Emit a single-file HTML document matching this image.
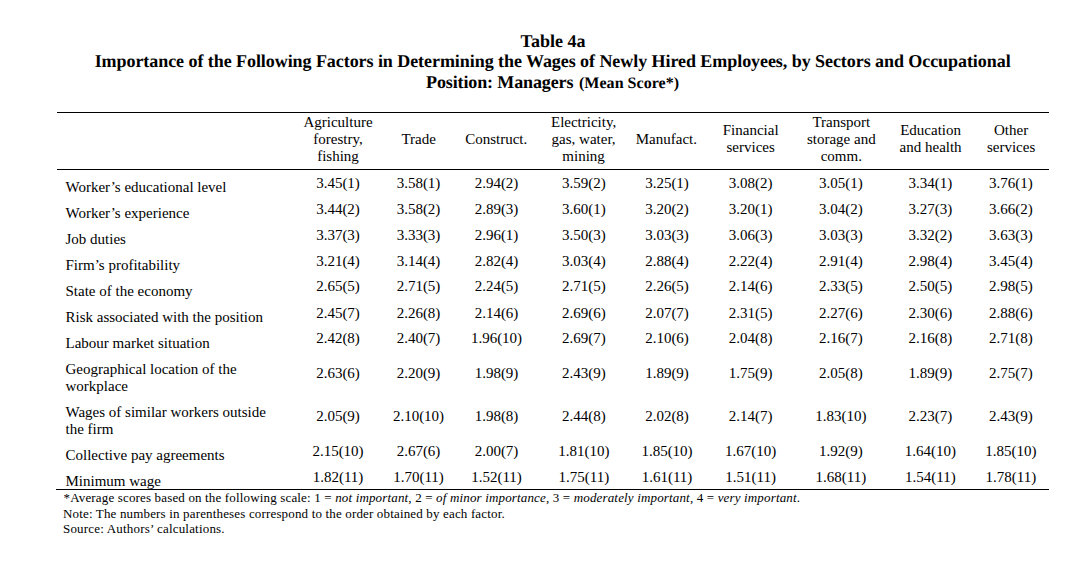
<!DOCTYPE html>
<html><head><meta charset="utf-8"><title>Table 4a</title>
<style>
html,body{margin:0;padding:0;background:#fff;}
body{width:1089px;height:565px;overflow:hidden;}
svg{display:block;}
text{font-family:"Liberation Serif","Times New Roman",serif;font-size:15px;fill:#000;}
.g{text-rendering:geometricPrecision;}
</style></head><body>
<svg width="1089" height="565" viewBox="0 0 1089 565">
<rect x="0" y="0" width="1089" height="565" fill="#fff"/>
<rect x="57" y="112" width="992" height="1" fill="#000"/>
<rect x="57" y="169" width="992" height="1" fill="#000"/>
<rect x="56" y="489" width="993" height="1" fill="#000"/>
<text class="g" x="426" y="88" style="font-size:18px;font-weight:bold" textLength="147.5" lengthAdjust="spacing">Position: Managers</text>
<text class="g" x="579" y="88" style="font-size:16px;font-weight:bold" textLength="100" lengthAdjust="spacing">(Mean Score*)</text>
<text x="553" y="47" text-anchor="middle" style="font-size:18px;font-weight:bold;" class="g">Table 4a</text>
<text x="552.65" y="67" text-anchor="middle" style="font-size:18px;font-weight:bold;" class="g" textLength="916" lengthAdjust="spacing">Importance of the Following Factors in Determining the Wages of Newly Hired Employees, by Sectors and Occupational</text>
<text x="338" y="127" text-anchor="middle">Agriculture</text>
<text x="338" y="144" text-anchor="middle">forestry,</text>
<text x="338" y="161" text-anchor="middle">fishing</text>
<text x="418.7" y="144" text-anchor="middle">Trade</text>
<text x="496.2" y="144" text-anchor="middle">Construct.</text>
<text x="583.6" y="127" text-anchor="middle">Electricity,</text>
<text x="583.6" y="144" text-anchor="middle">gas, water,</text>
<text x="583.6" y="161" text-anchor="middle">mining</text>
<text x="666.4" y="144" text-anchor="middle">Manufact.</text>
<text x="750.7" y="135" text-anchor="middle">Financial</text>
<text x="750.7" y="152" text-anchor="middle">services</text>
<text x="841.3" y="127" text-anchor="middle">Transport</text>
<text x="841.3" y="144" text-anchor="middle">storage and</text>
<text x="841.3" y="161" text-anchor="middle">comm.</text>
<text x="930.6" y="135" text-anchor="middle">Education</text>
<text x="930.6" y="152" text-anchor="middle">and health</text>
<text x="1011.1" y="135" text-anchor="middle">Other</text>
<text x="1011.1" y="152" text-anchor="middle">services</text>
<text x="65.5" y="192">Worker’s educational level</text>
<text x="338" y="188" text-anchor="middle">3.45(1)</text>
<text x="418.5" y="188" text-anchor="middle">3.58(1)</text>
<text x="496.5" y="188" text-anchor="middle">2.94(2)</text>
<text x="583.8" y="188" text-anchor="middle">3.59(2)</text>
<text x="667" y="188" text-anchor="middle">3.25(1)</text>
<text x="750.6" y="188" text-anchor="middle">3.08(2)</text>
<text x="840.8" y="188" text-anchor="middle">3.05(1)</text>
<text x="930.4" y="188" text-anchor="middle">3.34(1)</text>
<text x="1010.9" y="188" text-anchor="middle">3.76(1)</text>
<text x="65.5" y="218">Worker’s experience</text>
<text x="338" y="214" text-anchor="middle">3.44(2)</text>
<text x="418.5" y="214" text-anchor="middle">3.58(2)</text>
<text x="496.5" y="214" text-anchor="middle">2.89(3)</text>
<text x="583.8" y="214" text-anchor="middle">3.60(1)</text>
<text x="667" y="214" text-anchor="middle">3.20(2)</text>
<text x="750.6" y="214" text-anchor="middle">3.20(1)</text>
<text x="840.8" y="214" text-anchor="middle">3.04(2)</text>
<text x="930.4" y="214" text-anchor="middle">3.27(3)</text>
<text x="1010.9" y="214" text-anchor="middle">3.66(2)</text>
<text x="65.5" y="244">Job duties</text>
<text x="338" y="240" text-anchor="middle">3.37(3)</text>
<text x="418.5" y="240" text-anchor="middle">3.33(3)</text>
<text x="496.5" y="240" text-anchor="middle">2.96(1)</text>
<text x="583.8" y="240" text-anchor="middle">3.50(3)</text>
<text x="667" y="240" text-anchor="middle">3.03(3)</text>
<text x="750.6" y="240" text-anchor="middle">3.06(3)</text>
<text x="840.8" y="240" text-anchor="middle">3.03(3)</text>
<text x="930.4" y="240" text-anchor="middle">3.32(2)</text>
<text x="1010.9" y="240" text-anchor="middle">3.63(3)</text>
<text x="65.5" y="270">Firm’s profitability</text>
<text x="338" y="266" text-anchor="middle">3.21(4)</text>
<text x="418.5" y="266" text-anchor="middle">3.14(4)</text>
<text x="496.5" y="266" text-anchor="middle">2.82(4)</text>
<text x="583.8" y="266" text-anchor="middle">3.03(4)</text>
<text x="667" y="266" text-anchor="middle">2.88(4)</text>
<text x="750.6" y="266" text-anchor="middle">2.22(4)</text>
<text x="840.8" y="266" text-anchor="middle">2.91(4)</text>
<text x="930.4" y="266" text-anchor="middle">2.98(4)</text>
<text x="1010.9" y="266" text-anchor="middle">3.45(4)</text>
<text x="65.5" y="296">State of the economy</text>
<text x="338" y="291" text-anchor="middle">2.65(5)</text>
<text x="418.5" y="291" text-anchor="middle">2.71(5)</text>
<text x="496.5" y="291" text-anchor="middle">2.24(5)</text>
<text x="583.8" y="291" text-anchor="middle">2.71(5)</text>
<text x="667" y="291" text-anchor="middle">2.26(5)</text>
<text x="750.6" y="291" text-anchor="middle">2.14(6)</text>
<text x="840.8" y="291" text-anchor="middle">2.33(5)</text>
<text x="930.4" y="291" text-anchor="middle">2.50(5)</text>
<text x="1010.9" y="291" text-anchor="middle">2.98(5)</text>
<text x="65.5" y="322">Risk associated with the position</text>
<text x="338" y="318" text-anchor="middle">2.45(7)</text>
<text x="418.5" y="318" text-anchor="middle">2.26(8)</text>
<text x="496.5" y="318" text-anchor="middle">2.14(6)</text>
<text x="583.8" y="318" text-anchor="middle">2.69(6)</text>
<text x="667" y="318" text-anchor="middle">2.07(7)</text>
<text x="750.6" y="318" text-anchor="middle">2.31(5)</text>
<text x="840.8" y="318" text-anchor="middle">2.27(6)</text>
<text x="930.4" y="318" text-anchor="middle">2.30(6)</text>
<text x="1010.9" y="318" text-anchor="middle">2.88(6)</text>
<text x="65.5" y="348">Labour market situation</text>
<text x="338" y="343" text-anchor="middle">2.42(8)</text>
<text x="418.5" y="343" text-anchor="middle">2.40(7)</text>
<text x="496.5" y="343" text-anchor="middle">1.96(10)</text>
<text x="583.8" y="343" text-anchor="middle">2.69(7)</text>
<text x="667" y="343" text-anchor="middle">2.10(6)</text>
<text x="750.6" y="343" text-anchor="middle">2.04(8)</text>
<text x="840.8" y="343" text-anchor="middle">2.16(7)</text>
<text x="930.4" y="343" text-anchor="middle">2.16(8)</text>
<text x="1010.9" y="343" text-anchor="middle">2.71(8)</text>
<text x="65.5" y="374">Geographical location of the</text>
<text x="65.5" y="391">workplace</text>
<text x="338" y="378" text-anchor="middle">2.63(6)</text>
<text x="418.5" y="378" text-anchor="middle">2.20(9)</text>
<text x="496.5" y="378" text-anchor="middle">1.98(9)</text>
<text x="583.8" y="378" text-anchor="middle">2.43(9)</text>
<text x="667" y="378" text-anchor="middle">1.89(9)</text>
<text x="750.6" y="378" text-anchor="middle">1.75(9)</text>
<text x="840.8" y="378" text-anchor="middle">2.05(8)</text>
<text x="930.4" y="378" text-anchor="middle">1.89(9)</text>
<text x="1010.9" y="378" text-anchor="middle">2.75(7)</text>
<text x="65.5" y="417">Wages of similar workers outside</text>
<text x="65.5" y="434">the firm</text>
<text x="338" y="421" text-anchor="middle">2.05(9)</text>
<text x="418.5" y="421" text-anchor="middle">2.10(10)</text>
<text x="496.5" y="421" text-anchor="middle">1.98(8)</text>
<text x="583.8" y="421" text-anchor="middle">2.44(8)</text>
<text x="667" y="421" text-anchor="middle">2.02(8)</text>
<text x="750.6" y="421" text-anchor="middle">2.14(7)</text>
<text x="840.8" y="421" text-anchor="middle">1.83(10)</text>
<text x="930.4" y="421" text-anchor="middle">2.23(7)</text>
<text x="1010.9" y="421" text-anchor="middle">2.43(9)</text>
<text x="65.5" y="460">Collective pay agreements</text>
<text x="338" y="456" text-anchor="middle">2.15(10)</text>
<text x="418.5" y="456" text-anchor="middle">2.67(6)</text>
<text x="496.5" y="456" text-anchor="middle">2.00(7)</text>
<text x="583.8" y="456" text-anchor="middle">1.81(10)</text>
<text x="667" y="456" text-anchor="middle">1.85(10)</text>
<text x="750.6" y="456" text-anchor="middle">1.67(10)</text>
<text x="840.8" y="456" text-anchor="middle">1.92(9)</text>
<text x="930.4" y="456" text-anchor="middle">1.64(10)</text>
<text x="1010.9" y="456" text-anchor="middle">1.85(10)</text>
<text x="65.5" y="486">Minimum wage</text>
<text x="338" y="482" text-anchor="middle">1.82(11)</text>
<text x="418.5" y="482" text-anchor="middle">1.70(11)</text>
<text x="496.5" y="482" text-anchor="middle">1.52(11)</text>
<text x="583.8" y="482" text-anchor="middle">1.75(11)</text>
<text x="667" y="482" text-anchor="middle">1.61(11)</text>
<text x="750.6" y="482" text-anchor="middle">1.51(11)</text>
<text x="840.8" y="482" text-anchor="middle">1.68(11)</text>
<text x="930.4" y="482" text-anchor="middle">1.54(11)</text>
<text x="1010.9" y="482" text-anchor="middle">1.78(11)</text>
<text x="63.5" y="502" style="font-size:13px" textLength="736.5" lengthAdjust="spacing">*Average scores based on the following scale: 1 = <tspan font-style="italic">not important</tspan>, 2 = <tspan font-style="italic">of minor importance</tspan>, 3 = <tspan font-style="italic">moderately important</tspan>, 4 = <tspan font-style="italic">very important</tspan>.</text>
<text x="63" y="518" style="font-size:13px" textLength="441.7" lengthAdjust="spacing">Note: The numbers in parentheses correspond to the order obtained by each factor.</text>
<text x="63" y="533" style="font-size:13px" textLength="161.6" lengthAdjust="spacing">Source: Authors’ calculations.</text>
</svg>
</body></html>
